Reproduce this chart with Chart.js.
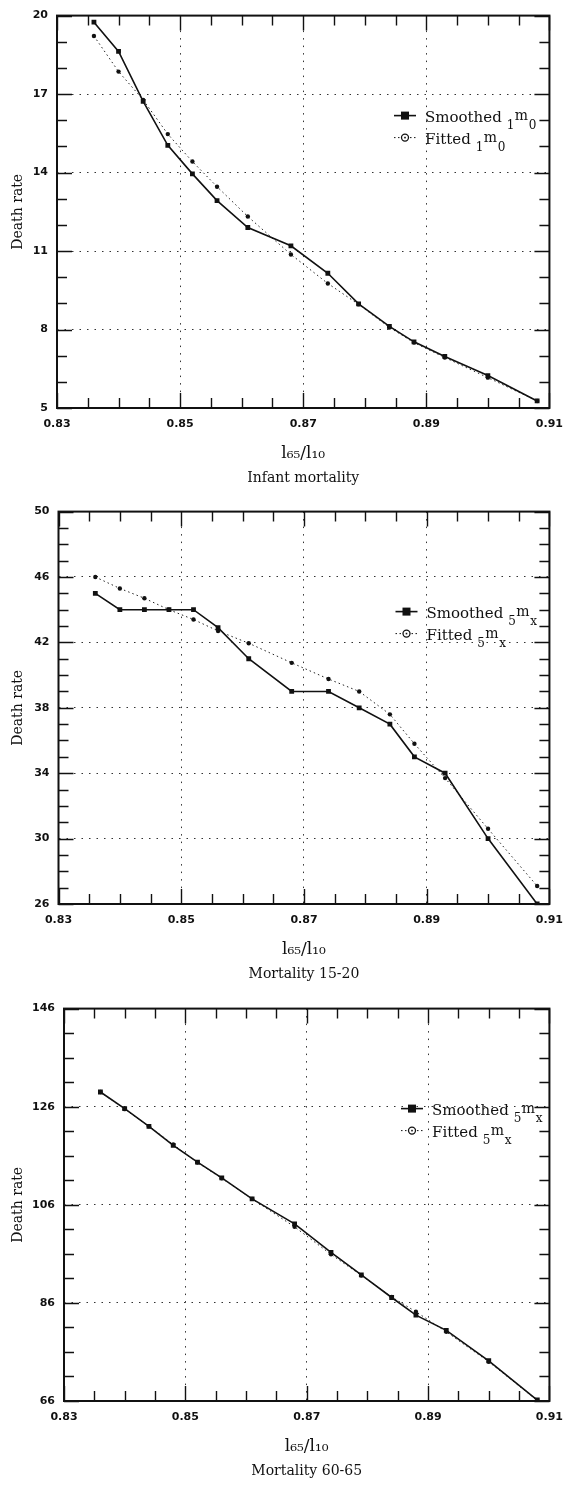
<!DOCTYPE html>
<html lang="en">
<head>
<meta charset="UTF-8">
<title>Death rate against l65/l10</title>
<script src="https://cdn.jsdelivr.net/npm/chart.js"></script>
<style>
    html, body {
        margin: 0;
        padding: 0;
        background: #fff;
        overflow: hidden;
    }
    .panel {
        position: absolute;
        left: 0;
    }
</style>
</head>
<body>
<canvas id="infantChart" class="panel" width="573" height="496" style="top:0px"></canvas>
<canvas id="youngChart" class="panel" width="573" height="496" style="top:496px"></canvas>
<canvas id="oldChart" class="panel" width="573" height="494" style="top:993px"></canvas>
<script>
// l65/l10 values, shared by the three panels
const ratioValues = [0.836, 0.840, 0.844, 0.848, 0.852, 0.856, 0.861, 0.868, 0.874, 0.879, 0.884, 0.888, 0.893, 0.900, 0.908];
const ratioTicks = [0.83, 0.85, 0.87, 0.89, 0.91];

// Infant mortality, 1m0
const infantSmoothed = [19.75, 18.63, 16.72, 15.04, 13.95, 12.93, 11.9, 11.2, 10.15, 8.98, 8.12, 7.53, 6.97, 6.24, 5.27];
const infantFitted = [19.22, 17.86, 16.78, 15.47, 14.42, 13.46, 12.32, 10.87, 9.76, 8.96, 8.08, 7.5, 6.93, 6.16, 5.27];
const infantTicks = [5, 8, 11, 14, 17, 20];

// Mortality 15-20, 5mx
const youngSmoothed = [45.0, 44.0, 44.0, 44.0, 44.0, 42.9, 41.0, 39.0, 39.0, 38.0, 37.0, 35.0, 34.0, 30.0, 26.0];
const youngFitted = [46.0, 45.3, 44.7, 44.0, 43.4, 42.7, 41.95, 40.75, 39.76, 39.0, 37.6, 35.8, 33.7, 30.6, 27.1];
const youngTicks = [26, 30, 34, 38, 42, 46, 50];

// Mortality 60-65, 5mx
const oldSmoothed = [129.0, 125.6, 122.0, 118.1, 114.7, 111.5, 107.2, 102.1, 96.3, 91.7, 87.1, 83.5, 80.4, 74.2, 66.2];
const oldFitted = [129.0, 125.5, 122.0, 118.3, 114.6, 111.4, 107.2, 101.5, 95.9, 91.6, 87.2, 84.2, 80.1, 74.0, 66.1];
const oldTicks = [66, 86, 106, 126, 146];

const INK = '#111';
const SERIF = '"DejaVu Serif", "Liberation Serif", serif';

function pairs(values) {
    return ratioValues.map((r, i) => ({ x: r, y: values[i] }));
}

// frame, inward major/minor ticks on all four sides, and the legend inside the plot
const framePlugin = {
    id: 'frameAndLegend',
    afterDraw(chart, args, opts) {
        const { ctx, chartArea: a, scales: { x, y } } = chart;
        ctx.save();
        ctx.strokeStyle = INK;
        ctx.setLineDash([]);
        ctx.lineWidth = 1.4;
        ctx.beginPath();
        const xEvery = Math.round(opts.xMajor / opts.xMinor);
        const nx = Math.round((x.max - x.min) / opts.xMinor);
        for (let i = 0; i <= nx; i++) {
            const px = Math.round(x.getPixelForValue(x.min + i * opts.xMinor)) + 0.5;
            const len = i % xEvery === 0 ? 15 : 10;
            ctx.moveTo(px, a.bottom); ctx.lineTo(px, a.bottom - len);
            ctx.moveTo(px, a.top); ctx.lineTo(px, a.top + len);
        }
        const yEvery = Math.round(opts.yMajor / opts.yMinor);
        const ny = Math.round((y.max - y.min) / opts.yMinor);
        for (let i = 0; i <= ny; i++) {
            const py = Math.round(y.getPixelForValue(y.min + i * opts.yMinor)) + 0.5;
            const len = i % yEvery === 0 ? 15 : 10;
            ctx.moveTo(a.left, py); ctx.lineTo(a.left + len, py);
            ctx.moveTo(a.right, py); ctx.lineTo(a.right - len, py);
        }
        ctx.stroke();
        ctx.lineWidth = 2;
        ctx.strokeRect(a.left, a.top, a.right - a.left, a.bottom - a.top);

        // legend
        const lx = a.left + 348;
        const ly = a.top + 100;
        chart.data.datasets.forEach((ds, r) => {
            const cy = ly + r * 22;
            ctx.strokeStyle = INK;
            ctx.fillStyle = INK;
            ctx.lineWidth = r === 0 ? 1.6 : 1;
            ctx.setLineDash(r === 0 ? [] : [1.5, 2.5]);
            ctx.beginPath();
            ctx.moveTo(lx - 11, cy); ctx.lineTo(lx + 11, cy);
            ctx.stroke();
            ctx.setLineDash([]);
            if (r === 0) {
                ctx.fillRect(lx - 4, cy - 4, 8, 8);
            } else {
                ctx.beginPath();
                ctx.arc(lx, cy, 3.5, 0, Math.PI * 2);
                ctx.fillStyle = '#fff';
                ctx.fill();
                ctx.lineWidth = 1.3;
                ctx.stroke();
                ctx.fillStyle = INK;
                ctx.fillRect(lx - 0.8, cy - 0.8, 1.6, 1.6);
            }
            ctx.textBaseline = 'alphabetic';
            ctx.textAlign = 'left';
            ctx.font = '15px ' + SERIF;
            const base = cy + 6;
            let tx = lx + 20;
            ctx.fillText(ds.label, tx, base);
            tx += ctx.measureText(ds.label).width + 5;
            // pre-subscript, raised m, post-subscript: e.g. 1m0, 5mx
            const parts = [
                { t: opts.symbol[0], size: 12, dy: 7 },
                { t: 'm', size: 14, dy: -2 },
                { t: opts.symbol[1], size: 12, dy: 7 }
            ];
            parts.forEach(p => {
                ctx.font = p.size + 'px ' + SERIF;
                ctx.fillText(p.t, tx, base + p.dy);
                tx += ctx.measureText(p.t).width + 0.5;
            });
        });
        ctx.restore();
    }
};

function makePanel(canvasId, smoothed, fitted, yTicks, yMinor, caption, symbol, box) {
    const yStep = yTicks[1] - yTicks[0];
    const xStep = ratioTicks[1] - ratioTicks[0];
    new Chart(document.getElementById(canvasId).getContext('2d'), {
        type: 'line',
        data: {
            datasets: [
                {
                    label: 'Smoothed',
                    data: pairs(smoothed),
                    borderColor: INK,
                    borderWidth: 1.6,
                    pointStyle: 'rect',
                    pointRadius: 3.4,
                    pointBackgroundColor: INK,
                    pointBorderWidth: 0,
                    tension: 0
                },
                {
                    label: 'Fitted',
                    data: pairs(fitted),
                    borderColor: '#222',
                    borderWidth: 1,
                    borderDash: [1.5, 3],
                    pointStyle: 'circle',
                    pointRadius: 2.2,
                    pointBackgroundColor: INK,
                    pointBorderWidth: 0,
                    tension: 0
                }
            ]
        },
        options: {
            responsive: false,
            animation: false,
            devicePixelRatio: 1,
            layout: {
                padding: { top: box.top, right: box.right, bottom: box.bottom, left: 0 }
            },
            scales: {
                x: {
                    type: 'linear',
                    min: ratioTicks[0],
                    max: ratioTicks[ratioTicks.length - 1],
                    afterFit: scale => { scale.height = 54; },
                    ticks: {
                        stepSize: xStep,
                        padding: 10,
                        maxRotation: 0,
                        color: INK,
                        font: { family: '"DejaVu Sans"', size: 11, weight: 'bold' },
                        callback: v => v.toFixed(2)
                    },
                    grid: { color: '#333', lineWidth: 1, drawTicks: false },
                    border: { display: false, dash: [1.5, 6] },
                    title: {
                        display: true,
                        text: 'l₆₅/l₁₀',
                        color: INK,
                        font: { family: SERIF, size: 17, lineHeight: 1 },
                        padding: { top: 0, bottom: 0 }
                    }
                },
                y: {
                    min: yTicks[0],
                    max: yTicks[yTicks.length - 1],
                    afterFit: scale => { scale.width = box.left; },
                    ticks: {
                        stepSize: yStep,
                        padding: 9,
                        color: INK,
                        font: { family: '"DejaVu Sans"', size: 11, weight: 'bold' }
                    },
                    grid: { color: '#333', lineWidth: 1, drawTicks: false },
                    border: { display: false, dash: [1.5, 6] },
                    title: {
                        display: true,
                        text: 'Death rate',
                        color: INK,
                        font: { family: SERIF, size: 14, lineHeight: 1.2 },
                        padding: { top: 10, bottom: 0 }
                    }
                }
            },
            plugins: {
                legend: { display: false },
                tooltip: { enabled: false },
                title: {
                    display: true,
                    text: caption,
                    position: 'bottom',
                    fullSize: false,
                    color: INK,
                    font: { family: SERIF, size: 14, weight: 'normal', lineHeight: 1.2 },
                    padding: { top: 8, bottom: 0 }
                },
                frameAndLegend: {
                    xMajor: xStep,
                    xMinor: 0.005,
                    yMajor: yStep,
                    yMinor: yMinor,
                    symbol: symbol
                }
            }
        },
        plugins: [framePlugin]
    });
}

makePanel('infantChart', infantSmoothed, infantFitted, infantTicks, 1, 'Infant mortality', ['1', '0'],
    { top: 14, right: 17, bottom: 9.2, left: 57 });
makePanel('youngChart', youngSmoothed, youngFitted, youngTicks, 1, 'Mortality 15-20', ['5', 'x'],
    { top: 15, right: 16, bottom: 9.2, left: 58.5 });
makePanel('oldChart', oldSmoothed, oldFitted, oldTicks, 5, 'Mortality 60-65', ['5', 'x'],
    { top: 15, right: 13, bottom: 7.2, left: 64 });
</script>
</body>
</html>
